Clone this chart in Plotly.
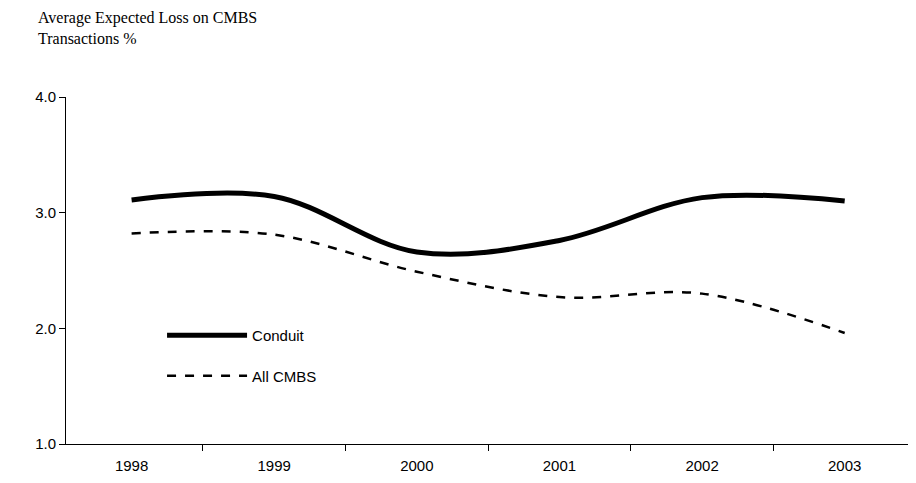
import plotly.graph_objects as go

years = ["1998", "1999", "2000", "2001", "2002", "2003"]
conduit = [3.11, 3.14, 2.66, 2.76, 3.13, 3.10]
all_cmbs = [2.82, 2.81, 2.49, 2.27, 2.30, 1.96]

xs = list(range(len(years)))
bounds = [i - 0.5 for i in range(len(years) + 1)]

fig = go.Figure()
fig.add_trace(go.Scatter(x=xs, y=conduit, mode="lines", name="Conduit", legendgroup="a",
                         line=dict(color="black", width=5, shape="spline", smoothing=1.0)))
fig.add_trace(go.Scatter(x=xs, y=all_cmbs, mode="lines", name="All CMBS", legendgroup="b",
                         line=dict(color="black", width=2.5, dash="dash", shape="spline", smoothing=1.0)))

fig.update_layout(
    width=916, height=483,
    margin=dict(l=58, r=8, t=89, b=47),
    plot_bgcolor="white", paper_bgcolor="white",
    font=dict(family="Liberation Sans, Arial", size=15, color="black"),
    showlegend=True,
    legend=dict(x=0.113, y=0.36, xanchor="left", yanchor="top", bgcolor="rgba(0,0,0,0)",
                font=dict(size=15), itemwidth=80, tracegroupgap=18),
    xaxis=dict(range=[-0.46, 5.5], tickvals=xs, ticktext=years, ticks="", ticklabelstandoff=8,
               minor=dict(tickvals=bounds, ticks="outside", ticklen=6, tickcolor="black"),
               showline=True, linecolor="black", showgrid=False, zeroline=False),
    yaxis=dict(range=[1.0, 4.0], dtick=1.0, tickformat=".1f", ticks="outside", ticklen=6,
               showline=True, linecolor="black", showgrid=False, tickcolor="black", zeroline=False),
    annotations=[dict(text="Average Expected Loss on CMBS<br>Transactions %", xref="paper", yref="paper",
                      x=-0.035, y=1.258, xanchor="left", yanchor="top", showarrow=False, align="left",
                      font=dict(family="Liberation Serif, Times New Roman", size=16))],
)
fig.write_html("out.html")
